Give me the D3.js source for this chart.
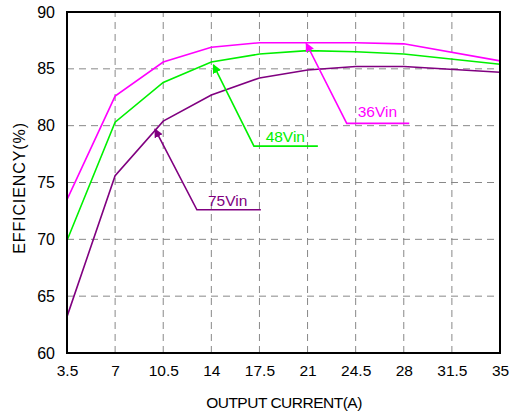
<!DOCTYPE html>
<html>
<head>
<meta charset="utf-8">
<script src="https://cdn.jsdelivr.net/npm/d3@7"></script>
<style>
  body { margin: 0; background: #fff; }
  text { font-family: "Liberation Sans", Arial, sans-serif; }
</style>
</head>
<body>
<div id="chart"></div>
<script>
// output current (A) and efficiency (%) per input voltage
var current = [3.5, 7, 10.5, 14, 17.5, 21, 24.5, 28, 35];
var eff36 = [73.5, 82.6, 85.6, 86.9, 87.3, 87.3, 87.3, 87.2, 85.7];
var eff48 = [69.9, 80.3, 83.8, 85.6, 86.3, 86.6, 86.5, 86.3, 85.4];
var eff75 = [63.2, 75.6, 80.4, 82.7, 84.2, 84.9, 85.2, 85.2, 84.7];

var xTicks = [3.5, 7, 10.5, 14, 17.5, 21, 24.5, 28, 31.5, 35];
var yTicks = [60, 65, 70, 75, 80, 85, 90];

// callouts: arrow tip, elbow, end of underline, label (data units)
var callouts = [
  {name: "36Vin", color: "#ff00ff", tip: [20.9, 87.25], elbow: [23.85, 80.2], end: 28.4, label: [24.65, 80.75]},
  {name: "48Vin", color: "#00f000", tip: [14.15, 85.35], elbow: [17.1, 78.2], end: 21.75, label: [17.95, 78.6]},
  {name: "75Vin", color: "#800080", tip: [9.9, 79.7], elbow: [12.95, 72.6], end: 17.6, label: [13.75, 72.95]}
];

var series = [
  {name: "36Vin", color: "#ff00ff", values: eff36},
  {name: "48Vin", color: "#00f000", values: eff48},
  {name: "75Vin", color: "#800080", values: eff75}
];

var width = 513, height = 416;
var margin = {top: 12, right: 13, bottom: 63, left: 67};

var svg = d3.select("#chart").append("svg")
  .attr("width", width)
  .attr("height", height);

var x = d3.scaleLinear()
  .domain([3.5, 35])
  .range([margin.left, width - margin.right]);

var y = d3.scaleLinear()
  .domain([60, 90])
  .range([height - margin.bottom, margin.top]);

// grid
svg.append("g")
  .selectAll("line")
  .data(xTicks.slice(1, -1))
  .enter().append("line")
  .attr("x1", d => x(d)).attr("x2", d => x(d))
  .attr("y1", y(60)).attr("y2", y(90))
  .attr("stroke", "#888")
  .attr("stroke-dasharray", "7,5");

svg.append("g")
  .selectAll("line")
  .data(yTicks.slice(1, -1))
  .enter().append("line")
  .attr("x1", x(3.5)).attr("x2", x(35))
  .attr("y1", d => y(d)).attr("y2", d => y(d))
  .attr("stroke", "#888")
  .attr("stroke-dasharray", "7,5");

// axes (labels only, frame drawn below)
var xAxis = g => g
  .attr("transform", `translate(0,${height - margin.bottom})`)
  .call(d3.axisBottom(x).tickValues(xTicks).tickSize(0).tickPadding(12).tickFormat(d => d))
  .call(g => g.select(".domain").remove());

var yAxis = g => g
  .attr("transform", `translate(${margin.left},0)`)
  .call(d3.axisLeft(y).tickValues(yTicks).tickSize(0).tickPadding(12))
  .call(g => g.select(".domain").remove());

svg.append("g").call(xAxis)
  .selectAll("text")
  .attr("font-size", 15.5)
  .attr("fill", "#000")
  .attr("font-family", "Liberation Sans, Arial, sans-serif");

svg.append("g").call(yAxis)
  .selectAll("text")
  .attr("font-size", 16)
  .attr("fill", "#000")
  .attr("font-family", "Liberation Sans, Arial, sans-serif");

// series lines
var line = d3.line()
  .x((d, i) => x(current[i]))
  .y(d => y(d));

svg.append("g")
  .selectAll("path")
  .data(series)
  .enter().append("path")
  .attr("d", d => line(d.values))
  .attr("fill", "none")
  .attr("stroke", d => d.color)
  .attr("stroke-width", 1.6);

// arrow markers
var defs = svg.append("defs");
callouts.forEach(function(c, i) {
  defs.append("marker")
    .attr("id", "arrow" + i)
    .attr("viewBox", "0 0 10 10")
    .attr("refX", 9).attr("refY", 5)
    .attr("markerWidth", 9).attr("markerHeight", 9)
    .attr("markerUnits", "userSpaceOnUse")
    .attr("orient", "auto")
    .append("path")
    .attr("d", "M0,0 L10,5 L0,10 z")
    .attr("fill", c.color);
});

// callouts
var ann = svg.append("g");
callouts.forEach(function(c, i) {
  ann.append("path")
    .attr("d", d3.line()([[x(c.end), y(c.elbow[1])], [x(c.elbow[0]), y(c.elbow[1])], [x(c.tip[0]), y(c.tip[1])]]))
    .attr("fill", "none")
    .attr("stroke", c.color)
    .attr("stroke-width", 1.6)
    .attr("marker-end", "url(#arrow" + i + ")");
  ann.append("text")
    .attr("x", x(c.label[0]))
    .attr("y", y(c.label[1]))
    .attr("font-size", 15.5)
    .attr("fill", c.color)
    .text(c.name);
});

// frame
svg.append("rect")
  .attr("x", x(3.5)).attr("y", y(90))
  .attr("width", x(35) - x(3.5))
  .attr("height", y(60) - y(90))
  .attr("fill", "none")
  .attr("stroke", "#000")
  .attr("stroke-width", 2);

// axis titles
svg.append("text")
  .attr("x", 284)
  .attr("y", 408)
  .attr("text-anchor", "middle")
  .attr("font-size", 15.5)
  .attr("letter-spacing", -0.5)
  .text("OUTPUT CURRENT(A)");

svg.append("text")
  .attr("transform", "translate(25,188) rotate(-90)")
  .attr("text-anchor", "middle")
  .attr("font-size", 16)
  .attr("letter-spacing", 0.9)
  .text("EFFICIENCY(%)");
</script>
</body>
</html>
